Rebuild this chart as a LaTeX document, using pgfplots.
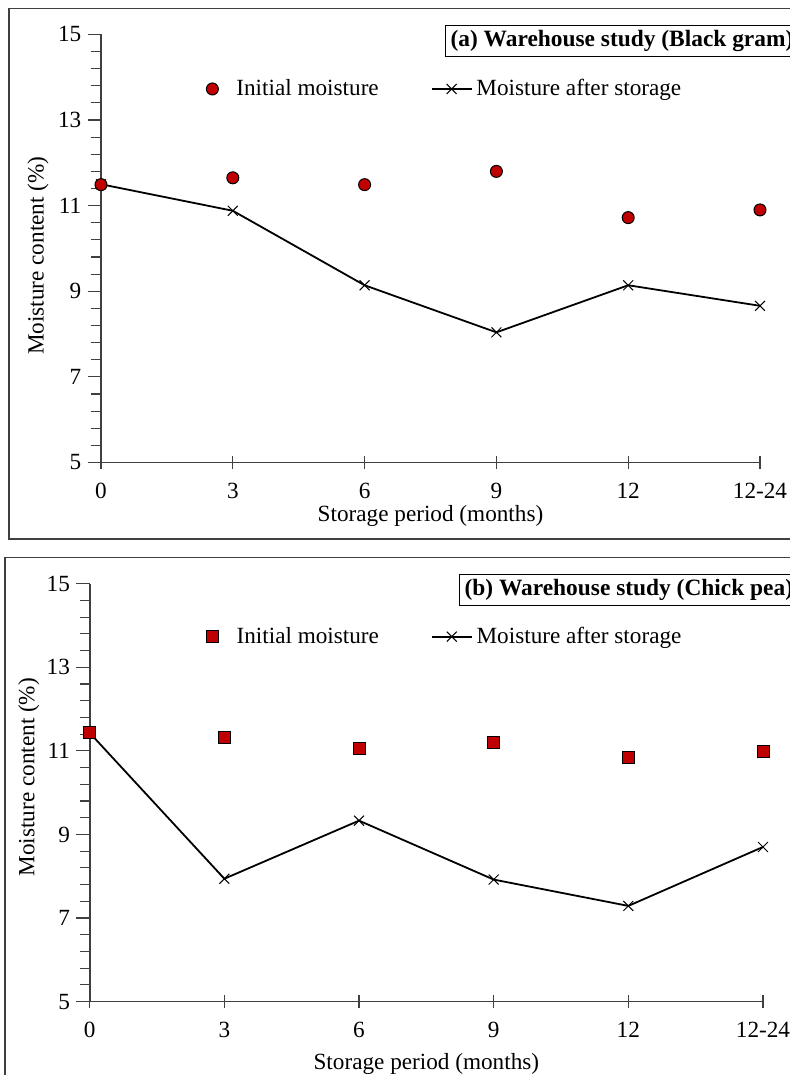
\documentclass[border=0pt]{standalone}
\usepackage{fontspec}
\setmainfont{Liberation Serif}
\usepackage{pgfplots}
\pgfplotsset{compat=1.18}
\definecolor{ired}{HTML}{C00000}
\definecolor{axgray}{HTML}{404040}
\newcommand{\fs}{\fontsize{11.6}{13}\selectfont}
\pgfplotsset{mystyle/.style={
  scale only axis,
  axis x line*=bottom, axis y line*=left,
  xmin=0,xmax=5,ymin=5,ymax=15,
  xtick={0,...,5}, xticklabels={0,3,6,9,12,12-24},
  ytick={5,7,...,15}, minor y tick num=4,
  tick align=center, major tick length=6.7pt, minor tick length=5pt,
  major y tick style={xshift=-3.35pt}, minor y tick style={xshift=-2.5pt},
  axis line style={axgray, line width=0.8pt},
  tick style={axgray, line width=0.6pt},
  font=\fs,
  tick label style={font=\fs},
  /pgf/number format/assume math mode=true,
  xticklabel style={yshift=-3.5pt},
  yticklabel style={xshift=-3pt},
  label style={font=\fs},
  legend style={draw=none, fill=none, inner sep=0pt, anchor=west, font=\fs, legend columns=2,
    /tikz/every even column/.append style={column sep=24pt}},
  clip=false,
}}
\pgfplotsset{longline/.style={legend image code/.code={%
  \draw[mark repeat=2,mark phase=2,##1] plot coordinates {(0cm,0cm)(0.35cm,0cm)(0.7cm,0cm)};}}}
\begin{document}
\begin{tikzpicture}
\useasboundingbox (0,0) rectangle (395pt,537.5pt);
\clip (0,0) rectangle (395pt,537.5pt);
% frames
\draw[axgray, line width=0.6pt] (4.5pt,268pt) rectangle (420pt,533.2pt);
\draw[axgray, line width=0.6pt] (2.5pt,-10pt) rectangle (420pt,258.65pt);
% top axis
\begin{axis}[mystyle,
  at={(50.5pt,306.25pt)}, anchor=south west,
  width=329.5pt, height=214.05pt,
  xlabel={Storage period (months)}, ylabel={Moisture content (\%)},
  xlabel style={at={(axis description cs:0.5,-0.125)}, anchor=center},
  ylabel style={at={(axis description cs:-0.0956,0.483)}, anchor=center},
  legend style={at={(axis description cs:0.1593,0.8725)}},
]
\addplot[black, line width=0.9pt, mark=x, mark size=3.5pt, mark options={line width=0.5pt}, forget plot]
  coordinates {(0,11.5)(1,10.88)(2,9.14)(3,8.04)(4,9.14)(5,8.66)};
\addplot[only marks, mark=*, mark size=3pt, mark options={fill=ired, draw=black, line width=0.5pt}, forget plot]
  coordinates {(0,11.49)(1,11.65)(2,11.49)(3,11.8)(4,10.72)(5,10.9)};
\addlegendimage{only marks, mark=*, mark size=3pt, mark options={fill=ired, draw=black, line width=0.5pt}}
\addlegendentry{\hspace{7pt}Initial moisture}
\addlegendimage{black, line width=0.9pt, mark=x, mark size=3.5pt, mark options={line width=0.5pt}, longline}
\addlegendentry{Moisture after storage}
\end{axis}
% bottom axis
\begin{axis}[mystyle,
  at={(44.85pt,36.7pt)}, anchor=south west,
  width=336.65pt, height=208.95pt,
  xlabel={Storage period (months)}, ylabel={Moisture content (\%)},
  xlabel style={at={(axis description cs:0.5,-0.1493)}, anchor=center},
  ylabel style={at={(axis description cs:-0.0904,0.537)}, anchor=center},
  legend style={at={(axis description cs:0.173,0.8734)}},
]
\addplot[black, line width=0.9pt, mark=x, mark size=3.5pt, mark options={line width=0.5pt}, forget plot]
  coordinates {(0,11.43)(1,7.94)(2,9.33)(3,7.92)(4,7.29)(5,8.70)};
\addplot[only marks, mark=square*, mark size=3pt, mark options={fill=ired, draw=black, line width=0.5pt}, forget plot]
  coordinates {(0,11.43)(1,11.31)(2,11.05)(3,11.19)(4,10.84)(5,10.99)};
\addlegendimage{only marks, mark=square*, mark size=3pt, mark options={fill=ired, draw=black, line width=0.5pt}}
\addlegendentry{\hspace{7pt}Initial moisture}
\addlegendimage{black, line width=0.9pt, mark=x, mark size=3.5pt, mark options={line width=0.5pt}, longline}
\addlegendentry{Moisture after storage}
\end{axis}
% title boxes
\node[draw=black, line width=0.6pt, anchor=west, inner sep=2.5pt, font=\bfseries\fontsize{11.7}{13}\selectfont] at (222.5pt,517pt) {(a) Warehouse study (Black gram)};
\node[draw=black, line width=0.6pt, anchor=west, inner sep=2.5pt, font=\bfseries\fontsize{11.7}{13}\selectfont] at (229.5pt,242.5pt) {(b) Warehouse study (Chick pea)};
\end{tikzpicture}
\end{document}
